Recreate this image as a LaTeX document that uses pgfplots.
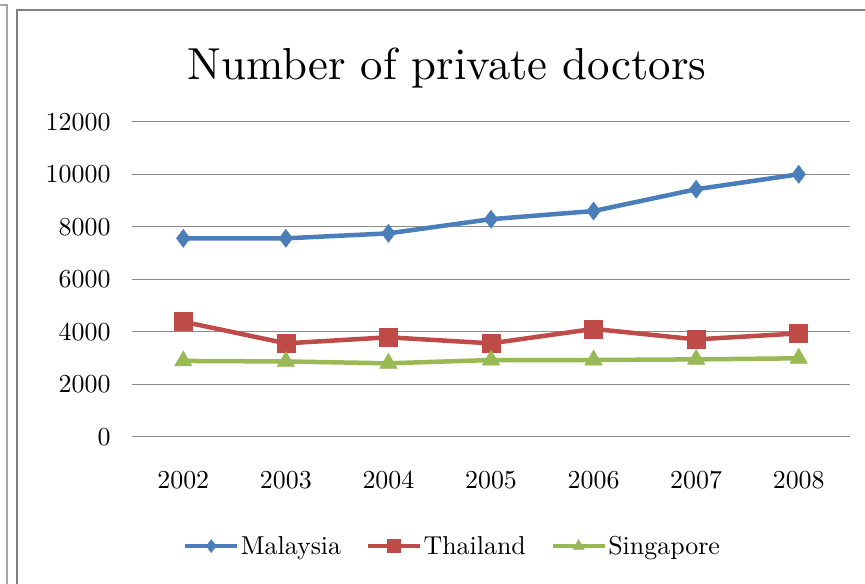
\documentclass[border=0pt]{standalone}
\usepackage{fontspec}
\setmainfont{lmroman10-regular.otf}
\usepackage{pgfplots}
\pgfplotsset{compat=1.18}
\definecolor{mblue}{HTML}{4A7EBB}
\definecolor{mred}{HTML}{BE4B48}
\definecolor{mgreen}{HTML}{98B954}
\definecolor{gridc}{HTML}{8C8C8C}
\begin{document}
\begin{tikzpicture}
\path[use as bounding box] (0,0) rectangle (865bp,584bp);
\fill[white] (0,0) rectangle (865bp,584bp);
\draw[line width=2bp, color=gray!70] (0,579bp) -- (7bp,579bp) -- (7bp,0);
\draw[line width=2.5bp, color=gray] (17bp,0) -- (17bp,574bp) -- (866bp,574bp);
\node[anchor=base, font=\fontsize{45}{50}\selectfont] at (447bp,504bp) {Number of private doctors};
\begin{axis}[
  at={(132bp,147.2bp)}, anchor=south west,
  scale only axis, width=718bp, height=315bp,
  xmin=2001.5, xmax=2008.5, ymin=0, ymax=12000,
  xtick={2002,2003,2004,2005,2006,2007,2008},
  ytick={0,2000,4000,6000,8000,10000,12000},
  axis line style={draw=none},
  major tick length=0pt,
  ymajorgrids, grid style={line width=1.3bp, color=gridc},
  /pgf/number format/assume math mode=true,
  tick label style={font=\fontsize{26}{30}\selectfont},
  x tick label style={/pgf/number format/1000 sep={}, yshift=-31bp},
  y tick label style={/pgf/number format/1000 sep={}, xshift=-18bp},
  scaled y ticks=false,
  clip=false,
  legend columns=-1,
  legend style={draw=none, fill=none, at={(0.446,-0.347)}, anchor=center,
    font=\fontsize{26}{30}\selectfont,
    nodes={inner sep=1.5bp},
    /tikz/every even column/.append style={column sep=23bp}},
  legend image code/.code={\draw[mark repeat=2, mark phase=2, mark size=6.5bp] plot coordinates {(0bp,0bp) (26bp,0bp) (52bp,0bp)};},
]
\addplot[color=mblue, line width=4.5bp, mark=diamond*, mark size=9bp, mark options={line width=0.5bp, fill=mblue}]
 coordinates {(2002,7560) (2003,7560) (2004,7750) (2005,8290) (2006,8600) (2007,9430) (2008,10000)};
\addlegendentry{Malaysia}
\addplot[color=mred, line width=4.5bp, mark=square*, mark size=9bp, mark options={line width=0.5bp, fill=mred}]
 coordinates {(2002,4385) (2003,3560) (2004,3790) (2005,3560) (2006,4110) (2007,3710) (2008,3940)};
\addlegendentry{Thailand}
\addplot[color=mgreen, line width=4.5bp, mark=triangle*, mark size=10bp, mark options={line width=0.5bp, fill=mgreen}]
 coordinates {(2002,2890) (2003,2870) (2004,2800) (2005,2925) (2006,2925) (2007,2950) (2008,2990)};
\addlegendentry{Singapore}
\end{axis}
\end{tikzpicture}
\end{document}
